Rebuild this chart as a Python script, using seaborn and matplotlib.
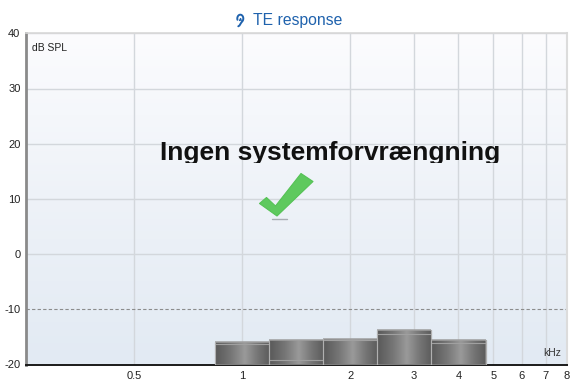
import numpy as np
import matplotlib
matplotlib.use("Agg")
import matplotlib.pyplot as plt
from matplotlib.patches import Polygon, Rectangle
from matplotlib.lines import Line2D
from matplotlib.colors import LinearSegmentedColormap
import seaborn as sns

# TE response: half-octave band levels (dB SPL) and the level drawn as a line inside each band
band_centers_khz = [1.0, 1.414, 2.0, 2.828, 4.0]
band_levels_db = [-15.85, -15.6, -15.4, -13.7, -15.6]
inner_levels_db = [-16.2, -19.1, -15.5, -14.5, -16.1]

y_ticks = [-20, -10, 0, 10, 20, 30, 40]
x_ticks = [0.5, 1, 2, 3, 4, 5, 6, 7, 8]
x_tick_labels = ["0.5", "1", "2", "3", "4", "5", "6", "7", "8"]

title_text = "TE response"
status_text = "Ingen systemforvrængning"
y_unit = "dB SPL"
x_unit = "kHz"

W, H = 571, 381
sns.set_style("white")
plt.rcParams["font.family"] = ["Liberation Sans", "DejaVu Sans"]
plt.rcParams["axes.unicode_minus"] = False

fig = plt.figure(figsize=(W / 100, H / 100), dpi=100)
fig.patch.set_facecolor("white")


def px(x, y):
    """Pixel position (from top-left) to figure fraction."""
    return x / W, 1 - y / H


left, right, top, bottom = 26, 567, 33.3, 364.5
ax = fig.add_axes([left / W, 1 - bottom / H, (right - left) / W, (bottom - top) / H])
ax.set_xscale("log")
ax.set_xlim(0.25, 8.02)
ax.set_ylim(-20, 40)

# soft vertical background gradient
bg = LinearSegmentedColormap.from_list("bg", ["#e2eaf3", "#eef2f8", "#fcfcfe"])
ax.imshow(np.linspace(0, 1, 256).reshape(-1, 1), cmap=bg, aspect="auto",
          extent=[0, 1, 0, 1], transform=ax.transAxes, origin="lower", zorder=0)

# grid
for xt in x_ticks:
    ax.axvline(xt, color="#d3d7dc", lw=1.0, zorder=1)
for yt in y_ticks:
    if yt == -10:
        ax.axhline(yt, color="#8c8c8c", lw=0.8, ls=(0, (3, 2)), zorder=1)
    elif yt not in (-20,):
        ax.axhline(yt, color="#d3d7dc", lw=1.0, zorder=1)

# bars with cylindrical grey shading
shade = LinearSegmentedColormap.from_list(
    "shade", ["#5a5a5a", "#767676", "#9a9a9a", "#767676", "#5c5c5c"])
half = 2 ** 0.25
for fc, lvl, inner in zip(band_centers_khz, band_levels_db, inner_levels_db):
    lo, hi = fc / half, fc * half
    bar = ax.bar(lo, lvl + 20, width=hi - lo, bottom=-20, align="edge",
                 color="#7d7d7d", edgecolor="#9a9a9a", lw=0.8, zorder=3)[0]
    img = ax.imshow(np.linspace(0, 1, 128).reshape(1, -1), cmap=shade,
                    aspect="auto", extent=[lo, hi, -20, lvl], zorder=3.5,
                    interpolation="bilinear")
    img.set_clip_path(bar)
    ax.plot([lo, hi], [lvl, lvl], color="#a0a0a0", lw=1.1, zorder=4,
            solid_capstyle="butt")
    ax.plot([lo, hi], [inner, inner], color="#a0a0a0", lw=0.8, zorder=4,
            solid_capstyle="butt")
    ax.plot([lo, lo], [-20, lvl], color="#b0b0b0", lw=0.8, zorder=4)
    ax.plot([hi, hi], [-20, lvl], color="#b0b0b0", lw=0.8, zorder=4)

ax.set_xticks(x_ticks)
ax.set_xticklabels(x_tick_labels)
ax.xaxis.set_minor_locator(matplotlib.ticker.NullLocator())
ax.set_yticks(y_ticks)
ax.tick_params(axis="both", length=0, labelsize=8, colors="#222222")
ax.tick_params(axis="x", pad=4.5)
ax.tick_params(axis="y", pad=4)

for side, sp in ax.spines.items():
    sp.set_visible(True)
ax.spines["left"].set_color("#8a8a8a")
ax.spines["left"].set_linewidth(2.0)
ax.spines["bottom"].set_color("#1a1a1a")
ax.spines["bottom"].set_linewidth(1.4)
ax.spines["top"].set_color("#d8d8d8")
ax.spines["top"].set_linewidth(1.2)
ax.spines["right"].set_color("#dcdcdc")
ax.spines["right"].set_linewidth(1.5)

# axis unit labels
ax.text(0.012, 0.955, y_unit, transform=ax.transAxes, fontsize=7.5,
        color="#222222", va="center", ha="left")
ax.text(0.99, 0.035, x_unit, transform=ax.transAxes, fontsize=7.5,
        color="#333333", va="center", ha="right")

# title with ear icon
fig.text(*px(297.5, 21), title_text, ha="center", va="center",
         fontsize=11.3, color="#1f62ad")
t = np.linspace(np.radians(200), np.radians(-50), 40)
ex = 240.3 + 3.0 * np.cos(t)
ey = 18.5 - 3.8 * np.sin(t)
ex = np.concatenate([ex, [241.0, 239.5, 238.3]])
ey = np.concatenate([ey, [23.0, 25.5, 26.3]])
fx, fy = zip(*[px(a, b) for a, b in zip(ex, ey)])
fig.add_artist(Line2D(fx, fy, color="#1f62ad", lw=1.4, solid_capstyle="round"))
ix, iy = zip(*[px(a, b) for a, b in [(239.6, 20.5), (240.6, 18.6), (241.2, 20.6)]])
fig.add_artist(Line2D(ix, iy, color="#1f62ad", lw=1.0))

# status message, clipped just below its baseline
msg = fig.text(*px(330, 160), status_text, ha="center", va="baseline",
               fontsize=19, fontweight="bold", color="#111111")
clip = Rectangle((0, H - 162.5), W, 60, transform=None)
msg.set_clip_path(clip)

# check mark
check_px = [(259.5, 203.5), (266.5, 197.5), (275.5, 206), (301, 173.5),
            (313, 181.5), (277, 216)]
fig.add_artist(Polygon([px(a, b) for a, b in check_px], closed=True,
                       transform=fig.transFigure, fc="#5ec95e", ec="#55c255",
                       lw=0.8, joinstyle="round"))
ux, uy = zip(*[px(272, 219.2), px(286.5, 219.2)])
fig.add_artist(Line2D(ux, uy, color="#a8adb3", lw=1.0))

fig.savefig("out.png", dpi=100, facecolor="white")
